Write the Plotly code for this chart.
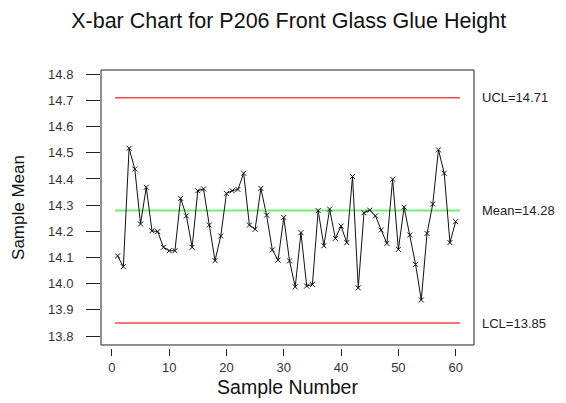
import plotly.graph_objects as go

sample_number = list(range(1, 61))
sample_mean = [
    14.106, 14.065, 14.517, 14.438, 14.228, 14.368, 14.202, 14.199, 14.139, 14.126,
    14.126, 14.326, 14.259, 14.139, 14.355, 14.362, 14.224, 14.088, 14.182, 14.345,
    14.355, 14.360, 14.422, 14.224, 14.208, 14.364, 14.262, 14.129, 14.090, 14.253,
    14.087, 13.988, 14.195, 13.991, 13.997, 14.279, 14.145, 14.285, 14.173, 14.220,
    14.157, 14.409, 13.984, 14.271, 14.281, 14.259, 14.205, 14.154, 14.399, 14.131,
    14.292, 14.186, 14.074, 13.938, 14.192, 14.304, 14.511, 14.422, 14.157, 14.237,
]
ucl = 14.71
center = 14.28
lcl = 13.85
limit_x = [0.55, 60.75]
x_ticks = [0, 10, 20, 30, 40, 50, 60]
y_ticks = [13.8, 13.9, 14.0, 14.1, 14.2, 14.3, 14.4, 14.5, 14.6, 14.7, 14.8]

font = "Liberation Sans, Arial, sans-serif"

fig = go.Figure()
fig.add_trace(go.Scatter(x=limit_x, y=[ucl, ucl], mode="lines",
                         line=dict(color="#f04a4a", width=1.5), hoverinfo="skip"))
fig.add_trace(go.Scatter(x=limit_x, y=[lcl, lcl], mode="lines",
                         line=dict(color="#f04a4a", width=1.5), hoverinfo="skip"))
fig.add_trace(go.Scatter(x=limit_x, y=[center, center], mode="lines",
                         line=dict(color="#74ee74", width=2), hoverinfo="skip"))
fig.add_trace(go.Scatter(x=sample_number, y=sample_mean, mode="lines+markers",
                         line=dict(color="#111111", width=1),
                         marker=dict(symbol="x-thin-open", size=5,
                                     line=dict(color="#222222", width=1))))

for val, label in [(ucl, f"UCL={ucl:.2f}"), (center, f"Mean={center:.2f}"), (lcl, f"LCL={lcl:.2f}")]:
    fig.add_annotation(x=1, xref="paper", xshift=7, y=val, yref="y", text=label,
                       showarrow=False, xanchor="left", yanchor="middle", borderpad=0,
                       font=dict(family=font, size=13, color="#222222"))

fig.add_shape(type="rect", xref="x domain", yref="y domain", x0=0, x1=1, y0=0, y1=1,
              line=dict(color="#222222", width=1))

# page body has an 8px default margin; figure is sized to fill the rest of the window
fig.update_layout(
    width=558, height=395,
    margin=dict(l=93, r=92, t=62, b=55),
    paper_bgcolor="white", plot_bgcolor="white",
    showlegend=False,
    title=dict(text="X-bar Chart for P206 Front Glass Glue Height", x=0.503, xanchor="center",
               xref="container", y=0.988, yref="container", yanchor="top",
               pad=dict(t=0, b=0),
               font=dict(family=font, size=21.5, color="#111111")),
    xaxis=dict(range=[-1.9, 63.2], tickvals=x_ticks, ticks="outside", ticklen=7,
               tickcolor="#222222", showline=False, showgrid=False, zeroline=False,
               anchor="free", position=0, automargin=False,
               tickfont=dict(family=font, size=13, color="#333333"),
               title=dict(text="Sample Number", font=dict(family=font, size=19.5, color="#111111"),
                          standoff=6)),
    yaxis=dict(range=[13.766, 14.816], tickvals=y_ticks,
               ticktext=[f"{v:.1f}" for v in y_ticks],
               domain=[0.0108, 1], automargin=False,
               ticks="outside", ticklen=14, tickcolor="#222222",
               showline=False, showgrid=False, zeroline=False,
               ticklabelstandoff=10,
               tickfont=dict(family=font, size=13, color="#333333"),
               title=dict(text="Sample Mean", font=dict(family=font, size=17, color="#111111"),
                          standoff=19)),
)

fig.write_html("out.html")
